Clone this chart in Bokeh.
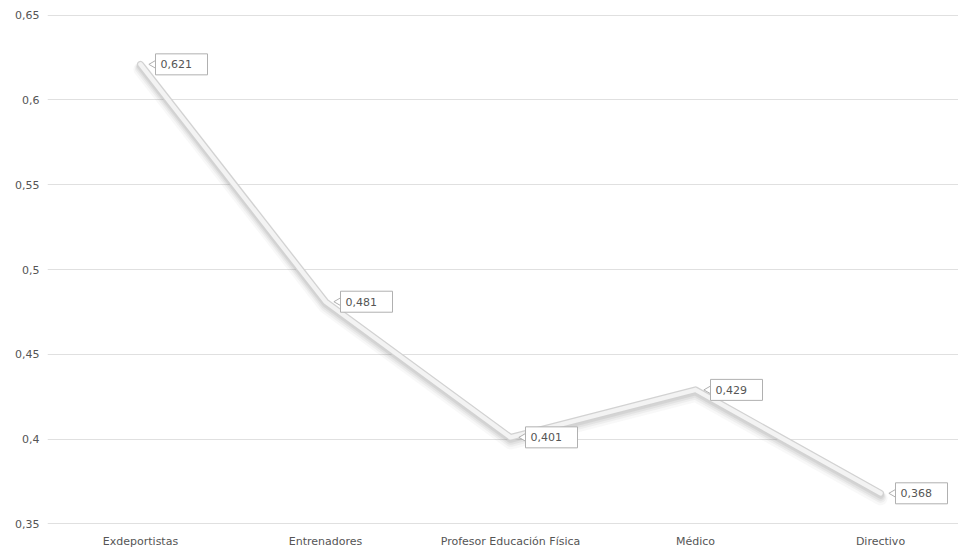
import numpy as np
from bokeh.plotting import figure
from bokeh.models import ColumnDataSource, FixedTicker, CustomJSTickFormatter, Range1d
from bokeh.core.properties import value
from bokeh.embed import file_html
from bokeh.resources import INLINE

categories = ["Exdeportistas", "Entrenadores", "Profesor Educación Física", "Médico", "Directivo"]
values = [0.621, 0.481, 0.401, 0.429, 0.368]
y_ticks = [0.35, 0.4, 0.45, 0.5, 0.55, 0.6, 0.65]

xs = list(range(len(categories)))
labels = [f"{v:.3f}".replace(".", ",") for v in values]

W, H = 958, 550
LEFT = 47
p = figure(width=W, height=H, output_backend="svg", toolbar_location=None,
           x_range=Range1d(-(140 - LEFT) / 185.0, (958 - 140) / 185.0),
           y_range=Range1d(0.3496, 0.6504),
           min_border_left=LEFT, min_border_right=0, min_border_top=14, min_border_bottom=26)
p.outline_line_color = None
p.background_fill_color = "white"
p.border_fill_color = "white"

px_y = 0.30 / 509.0
px_x = 1.0 / 185.0

ys = np.array(values)
xa = np.array(xs, dtype=float)
src = ColumnDataSource(dict(x=xs, y=values, lab=labels))
# soft shadow layers below the tube
for off, w, a in [(5, 14, 0.05), (4, 11, 0.07), (3, 9, 0.09), (2, 7, 0.12)]:
    p.line(xs, list(ys - off * px_y), line_color="#707070", line_width=w, line_alpha=a,
           line_join="round", line_cap="round")
p.line("x", "y", source=src, line_color="#d2d2d2", line_width=7, line_join="round", line_cap="round")
p.line("x", "y", source=src, line_color="#f3f3f3", line_width=4.5, line_join="round", line_cap="round")

# callout boxes
box = ColumnDataSource(dict(x=list(xa + 41 * px_x), y=values, lab=labels,
                            px=list(xa + 13 * px_x), tx=list(xa + 20 * px_x)))
p.scatter("px", "y", source=box, marker="triangle", size=8, angle=np.pi / 2,
          fill_color="white", line_color="#b0b0b0", line_width=1)
p.rect("x", "y", source=box, width=52, height=21, width_units="screen", height_units="screen",
       fill_color="white", line_color="#b0b0b0", line_width=1)
p.text("tx", "y", text="lab", source=box, text_font=value("DejaVu Sans"), text_font_size="11px",
       text_color="#555555", text_baseline="middle", text_align="left")

p.xaxis.ticker = FixedTicker(ticks=xs)
p.xaxis.major_label_overrides = {i: c for i, c in enumerate(categories)}
p.yaxis.ticker = FixedTicker(ticks=y_ticks)
p.yaxis.formatter = CustomJSTickFormatter(code="return tick.toFixed(2).replace(/0$/,'').replace('.',',');")
for ax in (p.xaxis[0], p.yaxis[0]):
    ax.axis_line_color = None
    ax.major_tick_line_color = None
    ax.minor_tick_line_color = None
    ax.major_tick_out = 0
    ax.major_tick_in = 0
    ax.minor_tick_out = 0
    ax.minor_tick_in = 0
    ax.major_label_text_font = "DejaVu Sans"
    ax.major_label_text_font_size = "11px"
    ax.major_label_text_color = "#555555"
p.xaxis.major_label_standoff = 10
p.yaxis.major_label_standoff = 8
p.xgrid.grid_line_color = None
p.ygrid.grid_line_color = "#e0e0e0"
p.ygrid.ticker = FixedTicker(ticks=y_ticks)

open("out.html", "w").write(file_html(p, INLINE))
